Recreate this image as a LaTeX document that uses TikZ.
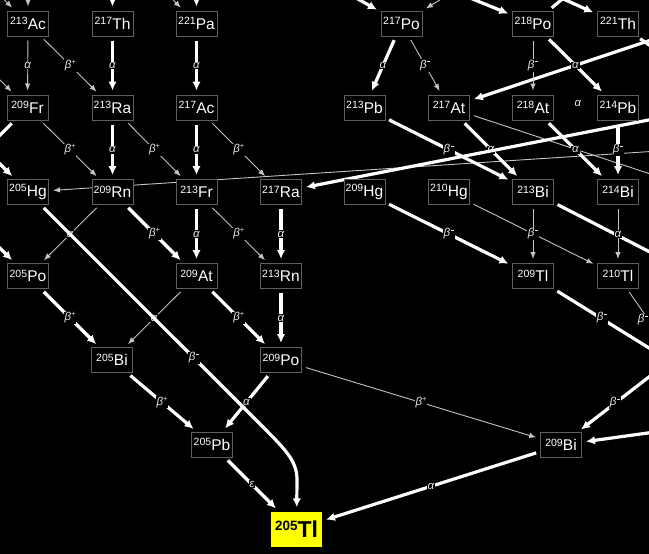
\documentclass[tikz,border=0pt]{standalone}
\usepackage{fontspec}
\setmainfont{Liberation Sans}
\usetikzlibrary{arrows.meta}
\pgfdeclarelayer{edges}
\pgfsetlayers{edges,main}
\definecolor{boxgray}{RGB}{95,95,95}
\definecolor{lineg}{RGB}{195,195,195}
\definecolor{labg}{RGB}{230,230,230}
\definecolor{tlyellow}{RGB}{255,255,0}
\newcommand{\iso}[2]{\raisebox{4.6pt}{\fontsize{10.5}{10.5}\selectfont #1}\kern0.2pt#2}
\newcommand{\bplus}{\textit{β}\raisebox{4pt}{\fontsize{7.5}{7.5}\selectfont +}}
\newcommand{\bminus}{\textit{β}\kern0.3pt\raisebox{6.5pt}{\rule{3.2pt}{0.7pt}}}
\newcommand{\alp}{\textit{α}}
\newcommand{\eps}{\textit{ε}}
\begin{document}
\begin{tikzpicture}[x=1pt,y=-1pt,
  nuc/.style={draw=boxgray, line width=1pt, fill=black, text=white,
    minimum width=41pt, minimum height=25pt, inner sep=0pt,
    font=\fontsize{15.5}{15.5}\selectfont},
  ln/.style={draw=lineg, line width=0.9pt, -{Latex[length=7pt,width=5.5pt]},
    shorten <=4pt, shorten >=4pt},
  lnplain/.style={draw=lineg, line width=0.9pt, shorten <=4pt},
  lk/.style={draw=white, line width=3.2pt, -{Latex[length=9pt,width=8.5pt]},
    shorten <=4pt, shorten >=4pt},
  lkplain/.style={draw=white, line width=3.2pt, shorten <=4pt},
  lab/.style={fill=black, text=labg, inner sep=0.8pt,
    font=\fontsize{11.5}{11.5}\selectfont}]
\useasboundingbox (0,0) rectangle (649,554);

% ---- nuclide nodes ----
\node[nuc] (ac213) at (28,23.5) {\iso{213}{Ac}};
\node[nuc] (th217) at (112.5,23.5) {\iso{217}{Th}};
\node[nuc] (pa221) at (196.5,23.5) {\iso{221}{Pa}};
\node[nuc] (fr209) at (27.5,107.5) {\iso{209}{Fr}};
\node[nuc] (ra213) at (112.5,107.5) {\iso{213}{Ra}};
\node[nuc] (ac217) at (196.5,107.5) {\iso{217}{Ac}};
\node[nuc] (hg205) at (28,192) {\iso{205}{Hg}};
\node[nuc] (rn209) at (112.5,192) {\iso{209}{Rn}};
\node[nuc] (fr213) at (196.5,192) {\iso{213}{Fr}};
\node[nuc] (ra217) at (281,192) {\iso{217}{Ra}};
\node[nuc] (po205) at (28,276) {\iso{205}{Po}};
\node[nuc] (at209) at (196.5,276) {\iso{209}{At}};
\node[nuc] (rn213) at (281,276) {\iso{213}{Rn}};
\node[nuc] (bi205) at (112,360) {\iso{205}{Bi}};
\node[nuc] (po209) at (281,360) {\iso{209}{Po}};
\node[nuc] (pb205) at (212,444.5) {\iso{205}{Pb}};
\node[nuc] (bi209) at (561,445) {\iso{209}{Bi}};
\node[fill=tlyellow, minimum width=51pt, minimum height=35pt, inner sep=0pt,
  text=black, font=\bfseries\fontsize{23}{23}\selectfont] (tl205) at (296.5,529)
  {\raisebox{6.5pt}{\fontsize{13.5}{13.5}\selectfont 205}Tl};
\node[nuc] (po217) at (401.5,23.5) {\iso{217}{Po}};
\node[nuc] (po218) at (533,23.5) {\iso{218}{Po}};
\node[nuc] (th221) at (618,23.5) {\iso{221}{Th}};
\node[nuc] (pb213) at (364.5,107.5) {\iso{213}{Pb}};
\node[nuc] (at217) at (449,107.5) {\iso{217}{At}};
\node[nuc] (at218) at (533,107.5) {\iso{218}{At}};
\node[nuc] (pb214) at (618,107.5) {\iso{214}{Pb}};
\node[nuc] (hg209) at (364.5,192) {\iso{209}{Hg}};
\node[nuc] (hg210) at (449,192) {\iso{210}{Hg}};
\node[nuc] (bi213) at (533,192) {\iso{213}{Bi}};
\node[nuc] (bi214) at (618,192) {\iso{214}{Bi}};
\node[nuc] (tl209) at (533,276) {\iso{209}{Tl}};
\node[nuc] (tl210) at (618,276) {\iso{210}{Tl}};

% ---- off-picture ends ----
\coordinate (xac213a) at (-56.5,-61);
\coordinate (xac213b) at (28,-61);
\coordinate (xth217) at (112.5,-61);
\coordinate (xpa221a) at (112.5,-61);
\coordinate (xpa221b) at (196.5,-61);
\coordinate (xfr209) at (-56.5,23.5);
\coordinate (xat205) at (-56.5,192);
\coordinate (xhg205) at (-56.5,107.5);
\coordinate (xpo205) at (-56.5,192);
\coordinate (xpo217a) at (253,-60);
\coordinate (xpo217b) at (500,-37);
\coordinate (xpo218a) at (417,-23.5);
\coordinate (xpo218b) at (590,-24);
\coordinate (xth221a) at (512,-24);
\coordinate (xth221b) at (700,80);
\coordinate (xat217in) at (720,17);
\coordinate (xra217in) at (720,106);
\coordinate (xhg205in) at (720,147);
\coordinate (xat217out) at (720,197);
\coordinate (xbi213out) at (720,288);
\coordinate (xtl209out) at (720,392);
\coordinate (xtl210out) at (680,365);
\coordinate (xbi209a) at (720,322);
\coordinate (xbi209b) at (720,423);

\begin{pgfonlayer}{edges}
\fill[black] (0,0) rectangle (649,554);
% long thin lines
\draw[ln] (xhg205in) -- (hg205);
\draw[lnplain] (at217) -- (xat217out);
% long thick lines
\draw[lk] (xat217in) -- (at217);
\draw[lkplain] (bi213) -- (xbi213out);
\draw[lkplain] (tl209) -- (xtl209out);
\draw[lnplain] (tl210) -- (xtl210out);
\draw[lk] (xbi209a) -- (bi209);
\draw[lk] (xbi209b) -- (bi209);
% entries at the top and left
\draw[ln] (xac213a) -- (ac213);
\draw[ln] (xac213b) -- (ac213);
\draw[lk] (xth217) -- (th217);
\draw[ln] (xpa221a) -- (pa221);
\draw[lk] (xpa221b) -- (pa221);
\draw[ln] (xfr209) -- (fr209);
\draw[lkplain] (fr209) -- (xat205);
\draw[lk] (xhg205) -- (hg205);
\draw[lk] (xpo205) -- (po205);
\draw[lk] (xpo217a) -- (po217);
\draw[ln] (xpo217b) -- (po217);
\draw[lk] (xpo218a) -- (po218);
\draw[lkplain] (po218) -- (xpo218b);
\draw[lk] (xth221a) -- (th221);
\draw[lkplain] (th221) -- (xth221b);
% thin decays
\draw[ln] (ac213) -- node[lab]{\alp} (fr209);
\draw[ln] (ac213) -- node[lab]{\bplus} (ra213);
\draw[ln] (fr209) -- node[lab]{\bplus} (rn209);
\draw[ln] (ra213) -- node[lab]{\bplus} (fr213);
\draw[ln] (ac217) -- node[lab]{\bplus} (ra217);
\draw[ln] (fr213) -- node[lab]{\bplus} (rn213);
\draw[ln] (rn209) -- node[lab]{\alp} (po205);
\draw[ln] (at209) -- node[lab]{\alp} (bi205);
\draw[ln] (po209) -- node[lab]{\bplus} (bi209);
\draw[ln] (po217) -- node[lab]{\bminus} (at217);
\draw[ln] (po218) -- node[lab]{\bminus} (at218);
\draw[ln] (hg210) -- (tl210);
\draw[ln] (bi213) -- node[lab]{\bminus} (tl209);
\draw[ln] (bi214) -- node[lab]{\alp} (tl210);
% thick decays
\draw[lk] (th217) -- node[lab]{\alp} (ra213);
\draw[lk] (pa221) -- node[lab]{\alp} (ac217);
\draw[lk] (ra213) -- node[lab]{\alp} (rn209);
\draw[lk] (ac217) -- node[lab]{\alp} (fr213);
\draw[lk] (fr213) -- node[lab]{\alp} (at209);
\draw[lk] (ra217) -- node[lab]{\alp} (rn213);
\draw[lk] (rn209) -- node[lab]{\bplus} (at209);
\draw[lk] (po205) -- node[lab]{\bplus} (bi205);
\draw[lk] (at209) -- node[lab]{\bplus} (po209);
\draw[lk] (rn213) -- node[lab]{\alp} (po209);
\draw[lk] (bi205) -- node[lab]{\bplus} (pb205);
\draw[lk] (po209) -- node[lab]{\alp} (pb205);
\draw[lk] (pb205) -- node[lab]{\eps} (tl205);
\draw[lk] (bi209) -- node[lab]{\alp} (tl205);
\draw[lk] (po217) -- node[lab]{\alp} (pb213);
\draw[lk] (po218) -- node[lab]{\alp} (pb214);
\draw[lk] (pb213) -- node[lab]{\bminus} (bi213);
\draw[lk] (at217) -- node[lab]{\alp} (bi213);
\draw[lk] (at218) -- node[lab]{\alp} (bi214);
\draw[lk] (pb214) -- node[lab]{\bminus} (bi214);
\draw[lk] (hg209) -- node[lab]{\bminus} (tl209);
% labels of edges that leave the picture
\node[lab] (lbi209a) at (615,403) {\bminus};
\node[lab] (ltl209) at (602,318) {\bminus};
\node[lab] (ltl210) at (643,320) {\bminus};
\node[lab] (lalone) at (578,103) {\alp};
% lines drawn over the labels they cross
\draw[lk] (xra217in) -- (ra217);
\draw[lk] (hg205) -- (255,419) .. controls (285,449) and (297,460) .. (297,480) -- (tl205);
\node[lab] (lhg205) at (194,358) {\bminus};
\end{pgfonlayer}
\end{tikzpicture}
\end{document}
